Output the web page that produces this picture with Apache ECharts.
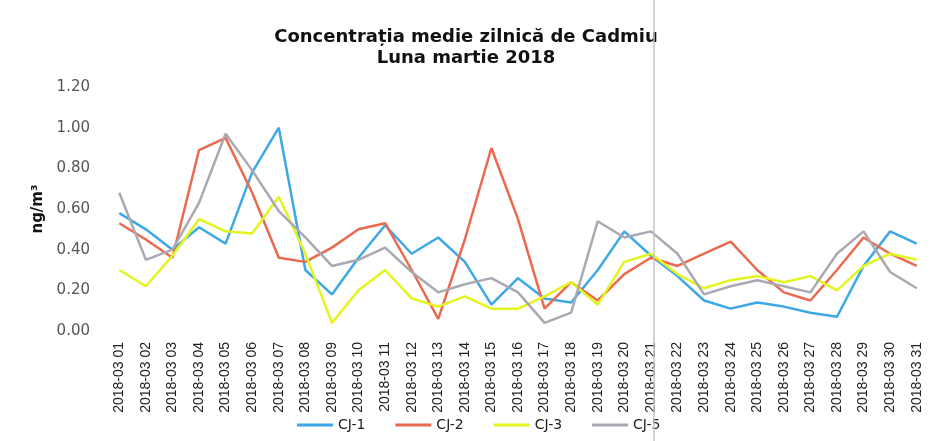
<!DOCTYPE html>
<html>
<head>
<meta charset="utf-8">
<title>Concentrația medie zilnică de Cadmiu</title>
<script src="https://cdn.jsdelivr.net/npm/echarts@6/dist/echarts.min.js"></script>
<style>
  html, body { margin: 0; padding: 0; background: #fff; }
  #chart { width: 937px; height: 441px; }
</style>
</head>
<body>
<div id="chart"></div>
<script>
// zilele lunii martie 2018
const days = []
for (let d = 1; d <= 31; d++) {
  days.push('2018-03 ' + String(d).padStart(2, '0'))
}

// valori (ng/m3)
const cj1 = [0.58, 0.50, 0.40, 0.51, 0.43, 0.78, 1.00, 0.30, 0.18, 0.36, 0.52, 0.38, 0.46, 0.34, 0.13, 0.26,
  0.16, 0.14, 0.30, 0.49, 0.37, 0.27, 0.15, 0.11, 0.14, 0.12, 0.09, 0.07, 0.32, 0.49, 0.43]
const cj2 = [0.53, 0.45, 0.36, 0.89, 0.95, 0.68, 0.36, 0.34, 0.41, 0.50, 0.53, 0.30, 0.06, 0.45, 0.90, 0.55,
  0.11, 0.24, 0.15, 0.28, 0.36, 0.32, 0.38, 0.44, 0.30, 0.19, 0.15, 0.30, 0.46, 0.38, 0.32]
const cj3 = [0.30, 0.22, 0.37, 0.55, 0.49, 0.48, 0.66, 0.38, 0.04, 0.20, 0.30, 0.16, 0.12, 0.17, 0.11, 0.11,
  0.17, 0.24, 0.13, 0.34, 0.38, 0.28, 0.21, 0.25, 0.27, 0.24, 0.27, 0.20, 0.32, 0.38, 0.35]
const cj5 = [0.68, 0.35, 0.40, 0.63, 0.97, 0.79, 0.59, 0.46, 0.32, 0.35, 0.41, 0.29, 0.19, 0.23, 0.26, 0.19,
  0.04, 0.09, 0.54, 0.46, 0.49, 0.38, 0.18, 0.22, 0.25, 0.22, 0.19, 0.38, 0.49, 0.29, 0.21]

const wide = '"DejaVu Sans", Verdana, sans-serif'
const plain = '"Liberation Sans", Arial, sans-serif'

const mkLine = (name, data, color) => ({
  name: name,
  type: 'line',
  data: data,
  symbol: 'none',
  lineStyle: { width: 2.5, color: color },
  itemStyle: { color: color }
})

let chart = echarts.init(document.getElementById('chart'))

let option = {
  backgroundColor: '#fff',
  animation: false,
  textStyle: { fontFamily: wide },
  title: {
    text: 'Concentrația medie zilnică de Cadmiu\nLuna martie 2018',
    left: 461,
    top: 22,
    textAlign: 'center',
    textStyle: { fontSize: 18, fontWeight: 'bold', color: '#111', lineHeight: 21, fontFamily: wide }
  },
  legend: {
    bottom: 4,
    left: 292,
    itemWidth: 36,
    itemHeight: 3,
    itemGap: 30,
    icon: 'rect',
    textStyle: { fontSize: 14, color: '#222', fontFamily: wide },
    data: ['CJ-1', 'CJ-2', 'CJ-3', 'CJ-5']
  },
  grid: { left: 106, right: 7, top: 87, bottom: 110 },
  xAxis: {
    type: 'category',
    data: days,
    boundaryGap: true,
    axisLine: { show: false },
    axisTick: { show: false },
    axisLabel: { rotate: 90, interval: 0, fontSize: 14, color: '#222', margin: 11, fontFamily: plain }
  },
  yAxis: {
    type: 'value',
    min: 0,
    max: 1.2,
    interval: 0.2,
    name: 'ng/m³',
    nameLocation: 'middle',
    nameGap: 56,
    nameRotate: 90,
    nameTextStyle: { fontSize: 15, fontWeight: 'bold', color: '#111', fontFamily: wide },
    axisLine: { show: false },
    axisTick: { show: false },
    splitLine: { show: false },
    axisLabel: {
      fontSize: 15,
      color: '#555',
      margin: 16,
      fontFamily: wide,
      formatter: v => v.toFixed(2)
    }
  },
  graphic: [
    {
      type: 'line',
      shape: { x1: 654, y1: 0, x2: 654, y2: 441 },
      style: { stroke: '#c4c4c4', lineWidth: 1.5 },
      z: 100
    }
  ],
  series: [
    mkLine('CJ-1', cj1, '#3da8e6'),
    mkLine('CJ-2', cj2, '#ea6a4f'),
    mkLine('CJ-3', cj3, '#e4f41e'),
    mkLine('CJ-5', cj5, '#a9a9b3')
  ]
}

chart.setOption(option)
</script>
</body>
</html>
